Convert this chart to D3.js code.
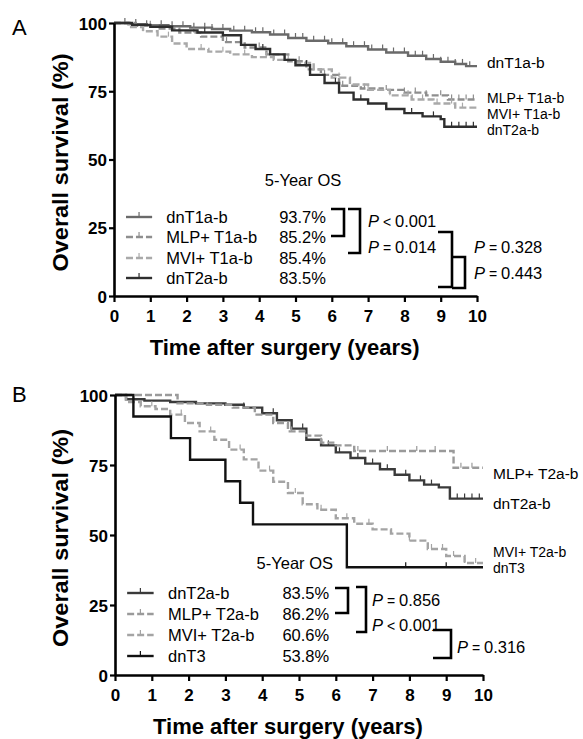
<!DOCTYPE html>
<html><head><meta charset="utf-8">
<script src="https://cdn.jsdelivr.net/npm/d3@7"></script>
<style>
body{margin:0;background:#fff;}
svg{display:block;font-family:"Liberation Sans",Arial,sans-serif;}
</style></head><body>
<svg id="c" width="583" height="739"></svg>
<script>
// ---------- DATA ----------
const xTicks = [0,1,2,3,4,5,6,7,8,9,10];
const yTicks = [0,25,50,75,100];

// Panel A
const A_names = ["dnT1a-b","MLP+ T1a-b","MVI+ T1a-b","dnT2a-b"];
const A_os = ["93.7%","85.2%","85.4%","83.5%"];
const A_dnT1_t = [0,0.4,0.9,1.5,2.1,2.7,3.2,3.8,4.3,4.8,5.3,5.9,6.4,7.0,7.5,8.1,8.6,9.0,9.4,9.7,10];
const A_dnT1_s = [100,99.6,99.2,98.8,98.3,97.8,97.2,96.6,95.8,94.5,93.5,92.6,91.5,90.3,89.2,88,86.8,85.8,85,84.2,84.2];
const A_MLP_t = [0,0.6,1.2,1.8,2.4,3.0,3.6,4.2,4.8,5.3,5.7,6.2,6.8,7.4,8.0,8.6,9.2,10];
const A_MLP_s = [100,99,98,96.5,95,93,91,88.5,86,83,81,77,76,75.5,74.5,73.5,72,72];
const A_MVI_t = [0,0.4,0.8,1.2,1.6,2.0,2.6,3.2,3.8,4.4,5.0,5.5,6.0,6.5,7.0,7.6,8.2,8.8,9.4,10];
const A_MVI_s = [100,98.5,97,95,92.5,90.5,89.5,88.5,87.5,86.5,85.4,83,80,77.5,75.5,73.5,72,70.5,69,69];
const A_dnT2_t = [0,0.5,1.0,1.6,2.3,3.0,3.5,3.9,4.3,4.7,5.0,5.4,5.8,6.2,6.6,7.0,7.5,8.0,8.5,9.0,9.1,10];
const A_dnT2_s = [100,99.3,98.6,97.3,96.5,95.5,92,90.5,88.5,86.5,84.5,81,78,74.5,72,70.5,68.5,67,65.8,64.8,62,62];
const A_dnT1_c = [0.3,0.6,0.9,1.3,1.6,1.9,2.2,2.5,2.7,3.0,3.3,3.6,3.9,4.1,4.4,4.7,5.0,5.2,5.5,5.8,6.0,6.3,6.6,6.9,7.1,7.4,7.7,8.0,8.3,8.5,8.8,9.0,9.2,9.4,9.6,9.8];
const A_MLP_c = [1.0,2.2,3.1,4.0,5.1,5.8,6.3,6.9,7.5,8.0,8.3,8.6,9.0,9.3,9.5,9.7,9.9];
const A_MVI_c = [0.8,1.5,2.4,3.0,3.6,4.2,4.8,5.5,6.2,7.0,7.6,8.1,8.5,8.9,9.3,9.6];
const A_dnT2_c = [2.5,4.1,5.3,6.1,6.8,7.5,8.2,8.8,9.3,9.5,9.7,9.9];
const A_pvals = ["P<0.001","P=0.014","P=0.328","P=0.443"];

// Panel B
const B_names = ["dnT2a-b","MLP+ T2a-b","MVI+ T2a-b","dnT3"];
const B_os = ["83.5%","86.2%","60.6%","53.8%"];
const B_dnT2_t = [0,0.3,0.8,1.5,2.2,3.0,3.5,4.0,4.4,4.8,5.2,5.6,6.0,6.4,6.8,7.2,7.6,8.0,8.4,8.8,9.1,10];
const B_dnT2_s = [100,98.5,98,97.5,97,96.5,95.5,93.5,91,88,84,82,79.5,77.5,75.5,73.5,71.5,69.5,68,67,63,63];
const B_MLP_t = [0,1.7,2.5,3.2,3.8,4.3,4.7,5.2,5.6,6.0,6.5,9.2,10];
const B_MLP_s = [100,97,96.5,95.5,93,90,87,85.5,83,82,80,74,74];
const B_MVI_t = [0,0.3,0.7,1.1,1.5,1.9,2.3,2.7,3.1,3.5,3.9,4.3,4.7,5.1,5.5,6.0,6.5,7.0,7.5,8.0,8.5,9.0,9.5,10];
const B_MVI_s = [100,97.5,96,95,93,90,87,84,80.5,77,73,69,65,61,59,56,54,52,50.5,48,45,42.5,40,40];
const B_dnT3_t = [0,0.5,1.52,2.04,3.0,3.4,3.75,6.3,10];
const B_dnT3_s = [100,92.3,84.6,76.9,69.2,61.5,53.8,38.5,38.5];
const B_dnT2_c = [3.5,4.3,5.1,5.8,6.1,6.6,7.0,7.4,7.9,8.3,8.6,9.3,9.5,9.7,9.9];
const B_MLP_c = [4.8,5.6,6.6,7.4,8.2,8.7,9.4,9.7];
const B_MVI_c = [1.0,1.8,2.6,3.4,4.2,4.9,5.6,6.3,6.9,7.5,8.0,8.6,8.9,9.2,9.5,9.8];
const B_dnT3_c = [7.9,9.0];
const B_pvals = ["P=0.856","P<0.001","P=0.316"];

// ---------- DRAW ----------
const svg = d3.select("#c");

function panel(o){
  const x = d3.scaleLinear().domain([0,10]).range([o.x0,o.x1]);
  const y = d3.scaleLinear().domain([0,100]).range([o.y0,o.y1]);
  const g = svg.append("g");
  g.append("text").attr("x",12).attr("y",o.letterY).attr("font-size",22).text(o.letter);
  const line = d3.line().x(d=>x(d[0])).y(d=>y(d[1])).curve(d3.curveStepAfter);
  o.series.forEach(s=>{
    const pts = s.t.map((t,i)=>[t,s.s[i]]);
    g.append("path").attr("d",line(pts)).attr("fill","none")
      .attr("stroke",s.color).attr("stroke-width",s.w||2.4)
      .attr("stroke-dasharray",s.dash||null);
    s.c.forEach(ct=>{
      let v = s.s[0];
      for(let i=0;i<s.t.length;i++){ if(s.t[i]<=ct) v=s.s[i]; }
      g.append("line").attr("x1",x(ct)).attr("x2",x(ct))
        .attr("y1",y(v)).attr("y2",y(v)-5)
        .attr("stroke",s.color).attr("stroke-width",1.2);
    });
  });
  const ax = g.append("g").attr("transform",`translate(0,${o.y0})`)
    .call(d3.axisBottom(x).tickValues(xTicks).tickSize(6).tickSizeOuter(0).tickFormat(d3.format("d")));
  const ay = g.append("g").attr("transform",`translate(${o.x0},0)`)
    .call(d3.axisLeft(y).tickValues(yTicks).tickSize(5).tickSizeOuter(0));
  [ax,ay].forEach(a=>{
    a.select(".domain").attr("stroke","#000").attr("stroke-width",2.6);
    a.selectAll(".tick line").attr("stroke","#000").attr("stroke-width",2.2);
    a.selectAll(".tick text").attr("font-size",17).attr("font-weight","bold")
      .attr("font-family","'Liberation Sans',Arial,sans-serif").attr("fill","#000");
  });
  ax.selectAll(".tick text").attr("dy","1.05em").attr("y",8);
  ay.selectAll(".tick text").attr("x",-7).attr("dy","0.36em");
  g.append("text").attr("transform",`translate(68,${(o.y0+o.y1)/2+3}) rotate(-90)`)
    .attr("text-anchor","middle").attr("font-size",22).attr("font-weight","bold")
    .attr("textLength",218).attr("lengthAdjust","spacingAndGlyphs")
    .text("Overall survival (%)");
  g.append("text").attr("x",x(4.7)).attr("y",o.y0+59)
    .attr("text-anchor","middle").attr("font-size",22).attr("font-weight","bold")
    .text("Time after surgery (years)");
  o.rightLabels.forEach(r=>{
    g.append("text").attr("x",x(10)+10).attr("y",r[1]).attr("font-size",r[2]||15.5).text(r[0]);
  });
  g.append("text").attr("x",o.osHead[0]).attr("y",o.osHead[1]).attr("text-anchor",o.osHead[2])
    .attr("font-size",16.5).text("5-Year OS");
  o.series.forEach((s,i)=>{
    const cy = o.rowY[i];
    const lx0 = x(0.33), lx1 = x(1.05);
    g.append("line").attr("x1",lx0).attr("x2",lx1).attr("y1",cy).attr("y2",cy)
      .attr("stroke",s.color).attr("stroke-width",2.4).attr("stroke-dasharray",s.dash||null);
    g.append("line").attr("x1",(lx0+lx1)/2).attr("x2",(lx0+lx1)/2).attr("y1",cy).attr("y2",cy-5)
      .attr("stroke",s.color).attr("stroke-width",1.2);
    g.append("text").attr("x",x(1.44)).attr("y",cy+6).attr("font-size",16.5).text(o.names[i]);
    g.append("text").attr("x",x(4.55)).attr("y",cy+6).attr("font-size",16.5).text(o.os[i]);
  });
  o.brackets.forEach(b=>{
    g.append("path").attr("d",`M${b[0]},${b[2]}H${b[1]}V${b[3]}H${b[0]}`)
      .attr("fill","none").attr("stroke","#000").attr("stroke-width",2.6);
  });
  o.pText.forEach((p,i)=>{
    const t = g.append("text").attr("x",p[0]).attr("y",p[1]).attr("font-size",16.5);
    t.append("tspan").attr("font-style","italic").text(o.pvals[i][0]);
    t.append("tspan").text(o.pvals[i][1]==="<" ? " < " : " = ").attr("font-size",14);
    t.append("tspan").text(o.pvals[i].slice(2));
  });
}

panel({
  letter:"A", letterY:35,
  x0:114, x1:477, y0:296, y1:23,
  names:A_names, os:A_os, pvals:A_pvals,
  series:[
    {t:A_dnT1_t,s:A_dnT1_s,c:A_dnT1_c,color:"#6a6a6a"},
    {t:A_MLP_t,s:A_MLP_s,c:A_MLP_c,color:"#8e8e8e",dash:"7,3"},
    {t:A_MVI_t,s:A_MVI_s,c:A_MVI_c,color:"#a9a9a9",dash:"7,3"},
    {t:A_dnT2_t,s:A_dnT2_s,c:A_dnT2_c,color:"#2e2e2e"}
  ],
  rightLabels:[["dnT1a-b",68,15.5],["MLP+ T1a-b",103,14],["MVI+ T1a-b",119,14],["dnT2a-b",135,14]],
  osHead:[303,186,"middle"],
  rowY:[217,237,258,278],
  brackets:[[331,344,209,236],[348,360,209,253],[438,452,232,287],[452,465,257,288]],
  pText:[[368,227],[368,253],[474,253],[474,279]]
});

panel({
  letter:"B", letterY:402,
  x0:115, x1:483, y0:675, y1:395,
  names:B_names, os:B_os, pvals:B_pvals,
  series:[
    {t:B_dnT2_t,s:B_dnT2_s,c:B_dnT2_c,color:"#3a3a3a"},
    {t:B_MLP_t,s:B_MLP_s,c:B_MLP_c,color:"#9a9a9a",dash:"7,3"},
    {t:B_MVI_t,s:B_MVI_s,c:B_MVI_c,color:"#a4a4a4",dash:"7,3"},
    {t:B_dnT3_t,s:B_dnT3_s,c:B_dnT3_c,color:"#111"}
  ],
  rightLabels:[["MLP+ T2a-b",479,15.5],["dnT2a-b",509,15.5],["MVI+ T2a-b",557,14],["dnT3",573,14]],
  osHead:[333,569,"end"],
  rowY:[593,614,635,656],
  brackets:[[335,348,588,613],[356,366,587,632],[433,451,630,658]],
  pText:[[372,606],[372,631],[457,653]]
});
</script>
</body></html>
